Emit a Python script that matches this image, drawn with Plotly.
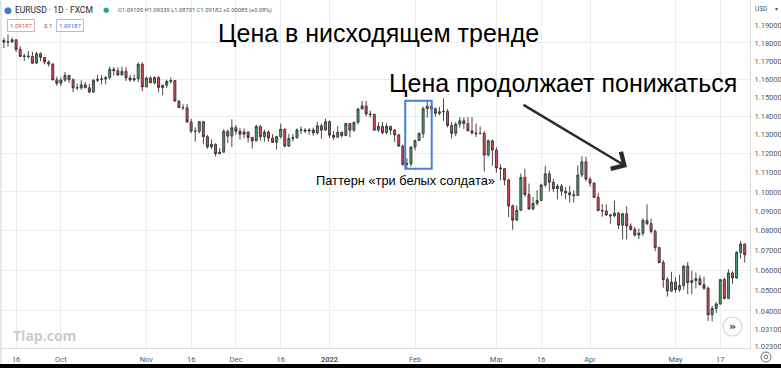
import math
import pandas as pd
import plotly.graph_objects as go

# ---------------- data (EUR/USD daily, FXCM) ----------------
dates = pd.bdate_range("2021-09-13", "2022-05-25").strftime("%Y-%m-%d").tolist()

sep_o = [1.1813,1.1805,1.1806,1.1817,1.1764,1.1725,1.1727,1.1725,1.1688,1.1740,1.1720,1.1694,1.1683,1.1597]
sep_h = [1.1829,1.1846,1.1830,1.1820,1.1782,1.1740,1.1755,1.1750,1.1750,1.1748,1.1722,1.1704,1.1686,1.1613]
sep_l = [1.1771,1.1780,1.1800,1.1750,1.1724,1.1700,1.1714,1.1684,1.1686,1.1700,1.1681,1.1669,1.1592,1.1563]
sep_c = [1.1805,1.1806,1.1817,1.1764,1.1725,1.1727,1.1725,1.1688,1.1740,1.1720,1.1694,1.1683,1.1597,1.1578]

oct_o = [1.1578,1.1595,1.1621,1.1597,1.1553,1.1553,1.1569,1.1553,1.1530,1.1594,1.1599,1.1601,1.1608,1.1654,1.1646,1.1623,1.1643,1.1607,1.1596,1.1603,1.1682]
oct_h = [1.1610,1.1640,1.1622,1.1604,1.1576,1.1594,1.1585,1.1573,1.1600,1.1624,1.1624,1.1618,1.1669,1.1667,1.1665,1.1669,1.1665,1.1624,1.1626,1.1692,1.1692]
oct_l = [1.1562,1.1585,1.1580,1.1529,1.1541,1.1542,1.1552,1.1524,1.1527,1.1584,1.1571,1.1571,1.1598,1.1620,1.1618,1.1621,1.1590,1.1586,1.1587,1.1585,1.1535]
oct_c = [1.1595,1.1621,1.1597,1.1553,1.1553,1.1569,1.1553,1.1530,1.1594,1.1599,1.1601,1.1608,1.1654,1.1646,1.1623,1.1643,1.1607,1.1596,1.1603,1.1682,1.1558]

nov_o = [1.1558,1.1607,1.1580,1.1609,1.1555,1.1567,1.1588,1.1592,1.1481,1.1446,1.1445,1.1368,1.1320,1.1319,1.1370,1.1290,1.1236,1.1250,1.1200,1.1208,1.1318,1.1293]
nov_h = [1.1614,1.1616,1.1616,1.1616,1.1568,1.1597,1.1609,1.1595,1.1486,1.1464,1.1465,1.1386,1.1340,1.1373,1.1374,1.1300,1.1275,1.1254,1.1229,1.1330,1.1328,1.1383]
nov_l = [1.1560,1.1579,1.1571,1.1529,1.1513,1.1552,1.1576,1.1479,1.1443,1.1433,1.1365,1.1309,1.1263,1.1306,1.1250,1.1226,1.1226,1.1186,1.1198,1.1206,1.1257,1.1235]
nov_c = [1.1607,1.1580,1.1609,1.1555,1.1567,1.1588,1.1592,1.1481,1.1446,1.1445,1.1368,1.1320,1.1319,1.1370,1.1290,1.1236,1.1250,1.1200,1.1208,1.1318,1.1293,1.1338]

dec_o = [1.1338,1.1319,1.1303,1.1315,1.1286,1.1268,1.1344,1.1290,1.1315,1.1283,1.1260,1.1290,1.1330,1.1240,1.1280,1.1285,1.1326,1.1325,1.1320,1.1326,1.1310,1.1348,1.1325]
dec_h = [1.1352,1.1335,1.1334,1.1317,1.1289,1.1354,1.1352,1.1328,1.1323,1.1303,1.1295,1.1360,1.1333,1.1305,1.1304,1.1335,1.1345,1.1336,1.1335,1.1338,1.1369,1.1360,1.1386]
dec_l = [1.1300,1.1275,1.1281,1.1260,1.1227,1.1265,1.1268,1.1263,1.1263,1.1257,1.1222,1.1280,1.1234,1.1236,1.1264,1.1280,1.1305,1.1310,1.1300,1.1295,1.1300,1.1280,1.1323]
dec_c = [1.1319,1.1303,1.1315,1.1286,1.1268,1.1344,1.1290,1.1315,1.1283,1.1260,1.1290,1.1330,1.1240,1.1280,1.1285,1.1326,1.1325,1.1320,1.1326,1.1310,1.1348,1.1325,1.1370]

jan_o = [1.1370,1.1298,1.1287,1.1313,1.1296,1.1360,1.1325,1.1367,1.1438,1.1455,1.1412,1.1409,1.1325,1.1345,1.1312,1.1345,1.1325,1.1299,1.1240,1.1144,1.1147]
jan_h = [1.1376,1.1321,1.1346,1.1318,1.1364,1.1362,1.1370,1.1445,1.1482,1.1483,1.1429,1.1413,1.1367,1.1368,1.1362,1.1348,1.1330,1.1306,1.1248,1.1175,1.1240]
jan_l = [1.1283,1.1272,1.1286,1.1285,1.1293,1.1287,1.1315,1.1356,1.1438,1.1399,1.1392,1.1322,1.1315,1.1303,1.1303,1.1300,1.1263,1.1236,1.1136,1.1121,1.1132]
jan_c = [1.1298,1.1287,1.1313,1.1296,1.1360,1.1325,1.1367,1.1438,1.1455,1.1412,1.1409,1.1325,1.1345,1.1312,1.1345,1.1325,1.1299,1.1240,1.1144,1.1147,1.1235]

feb_o = [1.1235,1.1270,1.1306,1.1440,1.1453,1.1440,1.1415,1.1423,1.1425,1.1350,1.1308,1.1357,1.1375,1.1360,1.1321,1.1310,1.1306,1.1307,1.1193,1.1268]
feb_h = [1.1272,1.1314,1.1451,1.1483,1.1458,1.1447,1.1449,1.1495,1.1438,1.1367,1.1367,1.1395,1.1393,1.1395,1.1395,1.1361,1.1344,1.1320,1.1275,1.1275]
feb_l = [1.1218,1.1265,1.1283,1.1391,1.1415,1.1396,1.1404,1.1374,1.1339,1.1281,1.1293,1.1338,1.1331,1.1319,1.1302,1.1288,1.1304,1.1106,1.1185,1.1136]
feb_c = [1.1270,1.1306,1.1440,1.1453,1.1440,1.1415,1.1423,1.1425,1.1350,1.1308,1.1357,1.1375,1.1360,1.1321,1.1310,1.1306,1.1307,1.1193,1.1268,1.1219]

mar_o = [1.1219,1.1125,1.1121,1.1062,1.0928,1.0855,1.0905,1.1075,1.0986,1.0912,1.0941,1.0956,1.1036,1.1094,1.1050,1.1017,1.1030,1.1004,1.0995,1.0985,1.0982,1.1088,1.1157]
mar_h = [1.1234,1.1145,1.1125,1.1070,1.0935,1.0930,1.1096,1.1121,1.1043,1.0974,1.1009,1.1043,1.1136,1.1111,1.1068,1.1041,1.1042,1.1025,1.1031,1.1008,1.1138,1.1185,1.1184]
mar_l = [1.1100,1.1060,1.1034,1.0870,1.0806,1.0850,1.0902,1.0975,1.0907,1.0905,1.0930,1.0954,1.1024,1.1003,1.1001,1.0962,1.0980,1.0962,1.0945,1.0944,1.0980,1.1077,1.1055]
mar_c = [1.1125,1.1121,1.1062,1.0928,1.0855,1.0905,1.1075,1.0986,1.0912,1.0941,1.0956,1.1036,1.1094,1.1050,1.1017,1.1030,1.1004,1.0995,1.0985,1.0982,1.1088,1.1157,1.1066]

apr_o = [1.1066,1.1046,1.0972,1.0904,1.0902,1.0881,1.0877,1.0890,1.0829,1.0887,1.0825,1.0807,1.0779,1.0788,1.0853,1.0837,1.0797,1.0715,1.0640,1.0555,1.0498]
apr_h = [1.1077,1.1048,1.0995,1.0937,1.0935,1.0888,1.0955,1.0896,1.0893,1.0925,1.0838,1.0820,1.0812,1.0864,1.0936,1.0863,1.0807,1.0720,1.0652,1.0568,1.0594]
apr_l = [1.1028,1.0968,1.0900,1.0872,1.0877,1.0836,1.0870,1.0809,1.0758,1.0757,1.0801,1.0770,1.0758,1.0774,1.0828,1.0786,1.0697,1.0636,1.0515,1.0470,1.0494]
apr_c = [1.1046,1.0972,1.0904,1.0902,1.0881,1.0877,1.0890,1.0829,1.0887,1.0825,1.0807,1.0779,1.0788,1.0853,1.0837,1.0797,1.0715,1.0640,1.0555,1.0498,1.0543]

may_o = [1.0543,1.0505,1.0525,1.0622,1.0540,1.0550,1.0559,1.0530,1.0512,1.0381,1.0412,1.0434,1.0555,1.0462,1.0588,1.0563,1.0690,1.0733]
may_h = [1.0566,1.0580,1.0627,1.0643,1.0600,1.0590,1.0576,1.0569,1.0520,1.0424,1.0444,1.0556,1.0565,1.0606,1.0596,1.0697,1.0749,1.0736]
may_l = [1.0490,1.0493,1.0505,1.0483,1.0483,1.0511,1.0525,1.0504,1.0352,1.0349,1.0390,1.0431,1.0456,1.0458,1.0532,1.0558,1.0660,1.0640]
may_c = [1.0505,1.0525,1.0622,1.0540,1.0550,1.0559,1.0530,1.0512,1.0381,1.0412,1.0434,1.0555,1.0462,1.0588,1.0563,1.0690,1.0733,1.0679]

opens = sep_o + oct_o + nov_o + dec_o + jan_o + feb_o + mar_o + apr_o + may_o
highs = sep_h + oct_h + nov_h + dec_h + jan_h + feb_h + mar_h + apr_h + may_h
lows = sep_l + oct_l + nov_l + dec_l + jan_l + feb_l + mar_l + apr_l + may_l
closes = sep_c + oct_c + nov_c + dec_c + jan_c + feb_c + mar_c + apr_c + may_c
assert len(dates) == len(opens) == len(highs) == len(lows) == len(closes)

# time-axis labels
tick_dates = ["2021-09-16", "2021-10-01", "2021-11-01", "2021-11-16", "2021-12-01", "2021-12-16",
              "2022-01-03", "2022-02-01", "2022-03-01", "2022-03-16", "2022-04-01", "2022-05-02", "2022-05-17"]
tick_text = ["16", "Oct", "Nov", "16", "Dec", "16", "<b>2022</b>", "Feb", "Mar", "16", "Apr", "May", "17"]

# price-axis labels (log scale)
price_ticks = [1.19, 1.18, 1.17, 1.16, 1.15, 1.14, 1.13, 1.12, 1.11, 1.10, 1.09, 1.08, 1.07,
               1.06, 1.05, 1.04, 1.031, 1.023]
grid_levels = [1.18, 1.16, 1.14, 1.12, 1.10, 1.08, 1.06, 1.04]

# "three white soldiers" pattern span
pattern_start, pattern_end = "2022-01-28", "2022-02-04"

# ---------------- figure ----------------
W_PLOT, H_PLOT = 750, 348
def px(x):
    return x / W_PLOT
def py(y):
    return 1 - y / H_PLOT

Y_RANGE = [math.log10(1.0220), math.log10(1.2041)]
GRID = "#ebedf0"
AXIS_FONT = dict(family="Roboto", size=7.5, color="#555a62")
TXT = "Liberation Sans"

fig = go.Figure()
fig.add_trace(go.Candlestick(
    x=dates, open=opens, high=highs, low=lows, close=closes,
    increasing=dict(line=dict(color="#2f3a34", width=0.9), fillcolor="#4e9b75"),
    decreasing=dict(line=dict(color="#3a2f31", width=0.9), fillcolor="#e2485a"),
    whiskerwidth=0, hoverinfo="skip", showlegend=False,
))
# carrier trace for the labelled price axis
fig.add_trace(go.Scatter(x=dates, y=closes, yaxis="y2", mode="lines",
                         line=dict(width=0, color="rgba(0,0,0,0)"),
                         hoverinfo="skip", showlegend=False))

i0 = dates.index(pattern_start)
i1 = dates.index(pattern_end)
box_low = min(lows[i0:i1 + 1])
box_high = max(highs[i0:i1 + 1])

shapes = [
    # pattern box
    dict(type="rect", xref="x", yref="y", x0=i0 - 0.4, x1=i1 + 1.1, y0=box_low, y1=box_high,
         line=dict(color="#4a7fd6", width=2), fillcolor="rgba(0,0,0,0)"),
    # bottom black strip
    dict(type="rect", xref="paper", yref="paper", x0=-0.01, x1=px(785), y0=py(370), y1=py(364),
         line=dict(width=0), fillcolor="#000000"),
    # left faint strip
    dict(type="rect", xref="paper", yref="paper", x0=0, x1=px(2), y0=py(364), y1=1,
         line=dict(width=0), fillcolor="#e3e7ee"),
    # scroll button
    dict(type="circle", xref="paper", yref="paper", x0=px(723), x1=px(742), y0=py(336), y1=py(317),
         line=dict(color="#d5d9df", width=1.2), fillcolor="white"),
    # settings icon
    dict(type="circle", xref="paper", yref="paper", x0=px(761), x1=px(771), y0=py(362), y1=py(352),
         line=dict(color="#6b6f76", width=1), fillcolor="white"),
    dict(type="circle", xref="paper", yref="paper", x0=px(764.2), x1=px(767.8), y0=py(358.8), y1=py(355.2),
         line=dict(color="#6b6f76", width=1), fillcolor="white"),
]


def label(text, x, y, size, color="#000", family="Roboto", xanchor="left", **kw):
    return dict(text=text, x=px(x), y=py(y), xref="paper", yref="paper", xanchor=xanchor,
                yanchor="middle", showarrow=False, font=dict(family=family, size=size, color=color), **kw)


annotations = [
    label("Цена в нисходящем тренде", 378, 33, 25, family=TXT, xanchor="center"),
    label("Цена продолжает понижаться", 563, 83, 25, family=TXT, xanchor="center"),
    label("Паттерн «три белых солдата»", 405, 180, 12.8, family=TXT, xanchor="center"),
    # arrow
    dict(text="", x=px(627), y=py(167), xref="x domain", yref="y domain", showarrow=True,
         axref="x domain", ayref="y domain", ax=px(522), ay=py(104),
         arrowhead=4, arrowsize=1.6, arrowwidth=2.4, arrowcolor="#2b2b2b"),
    # header
    label("●", 2, 10, 9, "#3d78d8", "DejaVu Sans"),
    label("EURUSD · 1D · FXCM", 13, 10, 8.5, "#1f2430"),
    label("●", 101, 10, 7, "#22a38a", "DejaVu Sans"),
    label("O1.09105 H1.09339 L1.08701 C1.09182 +0.00085 (+0.08%)", 116, 10, 5.8, "#50555e"),
    label("1.09187", 7, 25, 6, "#e2485a", bordercolor="#f0a8b0", borderwidth=1, borderpad=2,
          bgcolor="white"),
    label("0.1", 42, 25, 6, "#50555e"),
    label("1.09187", 56, 25, 6, "#3d6fd8", bordercolor="#a9bff0", borderwidth=1, borderpad=2,
          bgcolor="white"),
    # watermark
    label("<b>Tlap.com</b>", 11, 335, 14, "#c9ccd1", "Open Sans"),
    # currency label
    label("USD", 753, 9, 6.5, "#50555e"),
    label("▾", 773, 9, 6, "#50555e", "DejaVu Sans"),
    label("<b>»</b>", 732.5, 326, 11, "#3a3d42", "DejaVu Sans", xanchor="center"),
]

fig.update_layout(
    width=781, height=368,
    margin=dict(l=0, r=31, t=0, b=20),
    paper_bgcolor="white", plot_bgcolor="white",
    showlegend=False,
    xaxis=dict(type="category", range=[-0.96, 183.3], tickmode="array", tickvals=tick_dates,
               ticktext=tick_text, showgrid=True, gridcolor=GRID, gridwidth=1, zeroline=False,
               showline=True, linecolor="#d9dce1", linewidth=1, ticks="", tickfont=AXIS_FONT,
               ticklabelstandoff=4, rangeslider=dict(visible=False), fixedrange=True),
    yaxis=dict(type="log", range=Y_RANGE, tickmode="array", tickvals=grid_levels,
               showticklabels=False, showgrid=True, gridcolor=GRID, gridwidth=1, zeroline=False,
               ticks="", showline=False, fixedrange=True),
    yaxis2=dict(type="log", overlaying="y", side="right", range=Y_RANGE, tickmode="array",
                tickvals=price_ticks, tickformat=".5f", showgrid=False, zeroline=False,
                showline=True, linecolor="#d9dce1", linewidth=1, ticks="", tickfont=AXIS_FONT,
                ticklabelstandoff=2, fixedrange=True),
    shapes=shapes,
    annotations=annotations,
)

fig.write_html("out.html")
